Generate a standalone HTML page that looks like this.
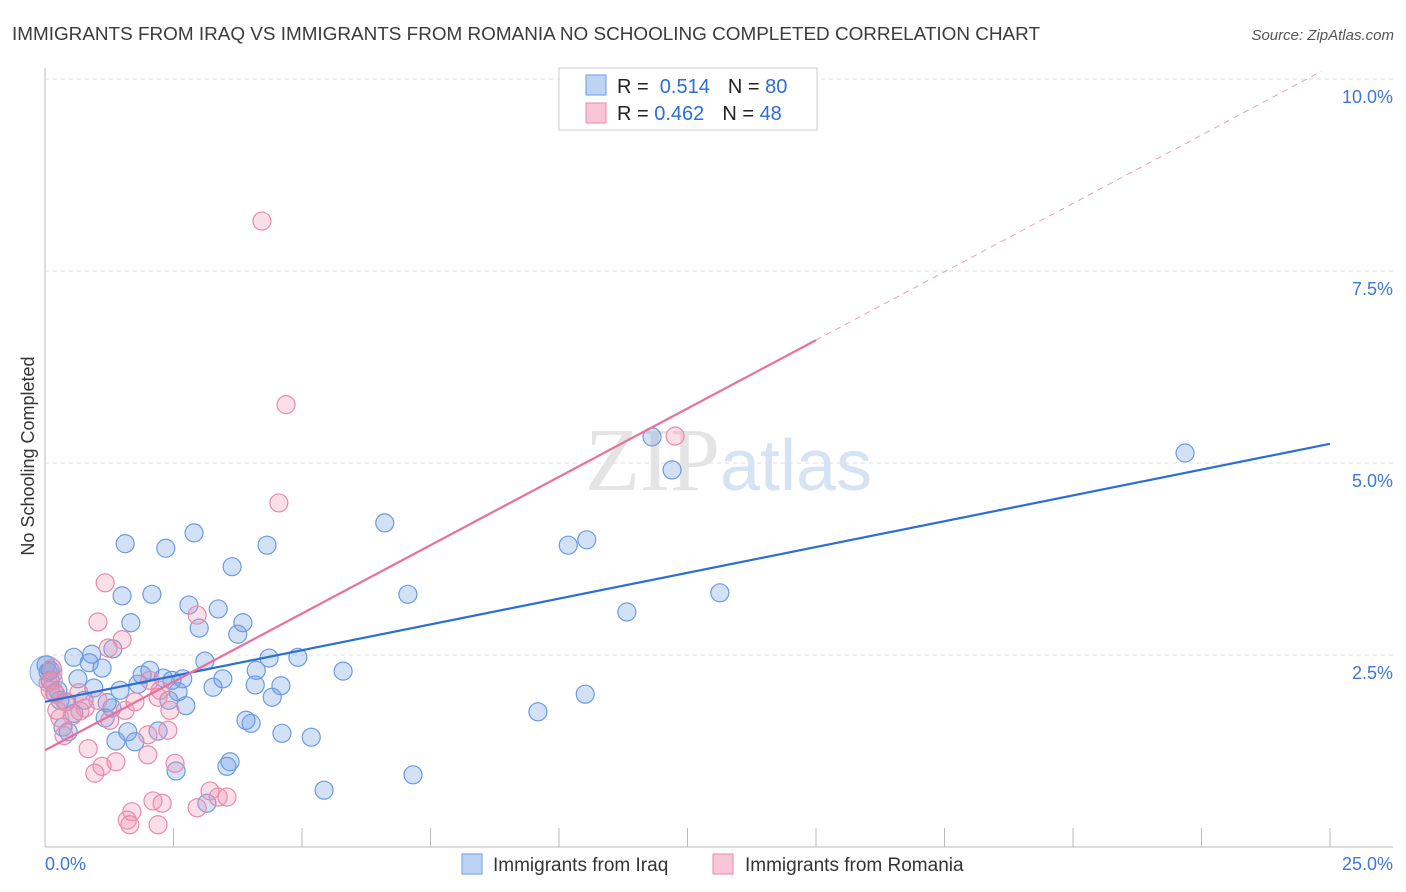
<!DOCTYPE html>
<html><head><meta charset="utf-8"><style>
body{margin:0;background:#fff;font-family:"Liberation Sans",sans-serif;}
#wrap{position:relative;width:1406px;height:892px;overflow:hidden;}
</style></head><body>
<div id="wrap">
<svg id="svg" width="1406" height="892" xmlns="http://www.w3.org/2000/svg">
<text x="12" y="40" font-size="18" fill="#3a3a3a" textLength="1028" lengthAdjust="spacingAndGlyphs">IMMIGRANTS FROM IRAQ VS IMMIGRANTS FROM ROMANIA NO SCHOOLING COMPLETED CORRELATION CHART</text>
<text x="1394" y="40" font-size="15" fill="#555" text-anchor="end" font-style="italic">Source: ZipAtlas.com</text>
<text transform="translate(34,456) rotate(-90)" font-size="18" fill="#333" text-anchor="middle">No Schooling Completed</text>
<g id="grid"></g>
<text x="720" y="490" font-size="90" fill="#e4e4e4" text-anchor="end" font-family="Liberation Serif,serif">ZIP</text>
<text x="720" y="490" font-size="72" fill="#d6e3f3">atlas</text>
<g id="pts"></g>
<g id="lines"></g>
<g>
<rect x="559" y="68" width="258" height="62" fill="#fff" stroke="#ccc"/>
<rect x="586" y="75" width="20" height="20" fill="#bcd3f3" stroke="#6b9be0"/>
<rect x="586" y="103" width="20" height="20" fill="#f8c6d6" stroke="#e88aaa"/>
<text x="617" y="93" font-size="20" fill="#222">R = <tspan fill="#2a6fd6">&#160;0.514</tspan><tspan dx="18">N = </tspan><tspan fill="#2a6fd6">80</tspan></text>
<text x="617" y="120" font-size="20" fill="#222">R = <tspan fill="#2a6fd6">0.462</tspan><tspan dx="18">N = </tspan><tspan fill="#2a6fd6">48</tspan></text>
</g>
<g>
<rect x="462" y="854" width="20" height="20" fill="#bcd3f3" stroke="#6b9be0"/>
<text x="493" y="871" font-size="19" fill="#333">Immigrants from Iraq</text>
<rect x="713" y="854" width="20" height="20" fill="#f8c6d6" stroke="#e88aaa"/>
<text x="745" y="871" font-size="19" fill="#333">Immigrants from Romania</text>
</g>
</svg>
</div>
<script>
const xTicks=[0,2.5,5,7.5,10,12.5,15,17.5,20,22.5,25];
const yTicks=[2.5,5,7.5,10];
const yTickLabels=["2.5%","5.0%","7.5%","10.0%"];
const iraqX=[22.18,11.81,12.20,6.61,10.54,10.18,2.90,2.35,1.56,4.32,3.64,7.06,13.13,11.32,2.08,1.50,2.80,3.37,1.67,3.85,3.75,3.00,1.32,0.56,0.91,0.86,1.11,3.11,4.36,4.92,5.80,2.04,1.89,2.30,2.47,2.68,2.59,1.81,1.46,0.95,0.25,0.64,0.06,0.02,0.10,0.19,0.41,0.76,1.21,1.30,2.74,2.41,3.27,3.46,4.09,4.59,4.11,4.42,10.51,9.59,3.91,4.01,1.17,0.56,0.35,0.45,1.61,2.20,1.38,1.75,4.61,5.18,3.60,3.54,2.55,7.16,5.43,3.15,0.10,0.29];
const iraqY=[5.13,5.34,4.91,4.22,4.00,3.93,4.09,3.89,3.95,3.93,3.65,3.29,3.31,3.06,3.29,3.27,3.15,3.10,2.92,2.92,2.77,2.85,2.58,2.47,2.51,2.40,2.33,2.42,2.46,2.47,2.29,2.30,2.24,2.20,2.17,2.19,2.02,2.12,2.04,2.07,2.04,2.19,2.28,2.37,2.17,2.01,1.89,1.91,1.88,1.81,1.84,1.91,2.08,2.19,2.11,2.10,2.30,1.95,1.99,1.76,1.65,1.61,1.68,1.74,1.56,1.50,1.50,1.51,1.38,1.37,1.48,1.43,1.11,1.05,0.99,0.94,0.74,0.57,2.30,1.91];
const romX=[4.22,4.69,12.26,4.55,1.17,1.03,2.96,1.50,1.23,0.14,0.16,0.21,0.66,0.39,0.78,0.53,0.29,0.68,1.26,1.56,1.75,2.20,2.43,2.24,2.39,2.00,0.84,0.37,2.00,2.53,1.38,1.11,0.97,3.21,3.37,3.54,2.10,2.28,1.69,1.60,1.65,2.20,2.96,0.06,0.10,1.03,2.04,0.23];
const romY=[8.15,5.76,5.35,4.48,3.44,2.93,3.02,2.70,2.59,2.33,2.17,1.99,2.01,1.89,1.81,1.71,1.68,1.77,1.65,1.78,1.89,1.95,1.78,2.04,1.52,1.46,1.28,1.45,1.20,1.09,1.11,1.05,0.96,0.73,0.65,0.65,0.60,0.57,0.46,0.35,0.29,0.29,0.51,2.14,2.04,1.91,2.17,1.78];
const iraqFit=[1.89,5.25];
const romFit=[1.26,6.6,15];
const NS="http://www.w3.org/2000/svg";
const X=v=>45+v/25*1285, Y=v=>847-v/10*768;
function mk(t,a,p){const e=document.createElementNS(NS,t);for(const k in a)e.setAttribute(k,a[k]);p.appendChild(e);return e;}
const grid=document.getElementById('grid');
mk('line',{x1:45,y1:847,x2:1393,y2:847,stroke:'#bbb'},grid);
mk('line',{x1:45,y1:68,x2:45,y2:847,stroke:'#bbb'},grid);
yTicks.forEach((t,i)=>{
 const l=mk('line',{x1:45,y1:Y(t),x2:1393,y2:Y(t),stroke:'#ddd','stroke-dasharray':'4,4'},grid);
 
 
 const tx=mk('text',{x:1393,y:Y(t)+24,'font-size':18,fill:'#3c78d8','text-anchor':'end'},grid);
 tx.textContent=yTickLabels[i];
 
 
});
xTicks.forEach(t=>{
 const l=mk('line',{x1:X(t),y1:828,x2:X(t),y2:847,stroke:'#bbb'},grid);
 
 
});
const x0=mk('text',{x:45,y:870,'font-size':18,fill:'#3c78d8'},grid);x0.textContent='0.0%';


const x1=mk('text',{x:1393,y:870,'font-size':18,fill:'#3c78d8','text-anchor':'end'},grid);x1.textContent='25.0%';


const pts=document.getElementById('pts');
const big=mk('circle',{cx:X(0.02),cy:Y(2.28),r:16,fill:'rgba(120,160,225,0.3)',stroke:'#8aaee6'},pts);


iraqX.forEach((v,i)=>{
 const c=mk('circle',{cx:X(v),cy:Y(iraqY[i]),r:9,fill:'rgba(110,155,230,0.3)',stroke:'#6b9be0','stroke-width':1.2},pts);
 
 
});
romX.forEach((v,i)=>{
 const c=mk('circle',{cx:X(v),cy:Y(romY[i]),r:9,fill:'rgba(240,150,180,0.3)',stroke:'#e88aaa','stroke-width':1.2},pts);
 
 
});
const lines=document.getElementById('lines');
const bl=mk('line',{x1:X(0),y1:Y(iraqFit[0]),x2:X(25),y2:Y(iraqFit[1]),stroke:'#2a6fd6','stroke-width':2.2},lines);


const slope=(romFit[1]-romFit[0])/romFit[2];
const pl=mk('line',{x1:X(0),y1:Y(romFit[0]),x2:X(romFit[2]),y2:Y(romFit[1]),stroke:'#e8709a','stroke-width':2.2},lines);


const xe=(10.1-romFit[0])/slope;
const pd=mk('line',{x1:X(romFit[2]),y1:Y(romFit[1]),x2:X(xe),y2:Y(10.1),stroke:'#eaa0b8','stroke-width':1,'stroke-dasharray':'6,5'},lines);


</script>
</body></html>
